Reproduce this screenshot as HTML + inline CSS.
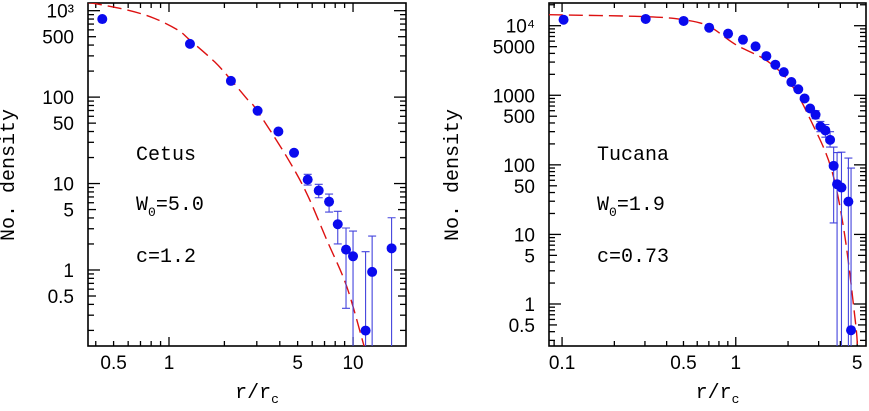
<!DOCTYPE html>
<html><head><meta charset="utf-8"><style>
html,body{margin:0;padding:0;background:#fff;}
svg{display:block;font-family:"Liberation Sans",sans-serif;}
</style></head><body>
<svg id="chart" width="869" height="411" viewBox="0 0 869 411" xmlns="http://www.w3.org/2000/svg"></svg>
<script>
// ---- Cetus data ----
const cetusR = [0.434,1.30,2.17,3.03,3.93,4.78,5.67,6.51,7.41,8.26,9.16,10.0,11.7,12.7,16.2];
const cetusN = [800,413,154,69.5,40,22.7,11.1,8.3,6.17,3.38,1.72,1.44,0.199,0.95,1.78];
const cetusHi = [null,null,null,null,null,null,12.8,9.8,7.56,4.77,3.06,2.82,1.63,2.47,4.02];
const cetusLo = [null,null,null,null,null,null,9.6,6.85,4.68,2.0,0.36,0.001,0.001,0.001,0.001];
const cetusModelR = [0.363,0.395,0.599,0.836,1.12,1.30,1.77,2.18,2.69,3.0,4.36,5.6,7.2,9.25,11.5];
const cetusModelN = [1240,1210,1014,813,595,456,256,157,92,70.7,20.4,7.7,2.22,0.64,0.13];
const cetusXTicks = [0.5,1,5,10];
const cetusXTickLabels = ["0.5","1","5","10"];
const cetusYTicks = [0.5,1,5,10,50,100,500,1000];
const cetusYTickLabels = ["0.5","1","5","10","50","100","500","10³"];
// ---- Tucana data ----
const tucR = [0.102,0.303,0.501,0.703,0.903,1.10,1.30,1.50,1.69,1.89,2.09,2.29,2.49,2.68,2.88,3.07,3.28,3.49,3.66,3.83,4.06,4.45,4.61];
const tucN = [12200,12500,11700,9360,7680,6300,5040,3660,2750,2150,1550,1220,900,646,524,356,312,229,96.8,52.7,47.2,29.6,0.42];
const tucHi = [null,null,null,null,null,null,null,null,null,null,null,null,null,null,600,420,380,300,180,150,152,125,90];
const tucLo = [null,null,null,null,null,null,null,null,null,null,null,null,null,null,460,300,250,180,14.6,0.001,0.001,0.001,0.001];
const tucModelR = [0.084,0.3,0.5,0.7,1.0,1.53,2.09,2.72,3.54,4.22,4.87,5.02];
const tucModelN = [14400,13500,12200,9800,5330,3070,1420,420,89.5,10.4,0.59,0.25];
const tucXTicks = [0.1,0.5,1,5];
const tucXTickLabels = ["0.1","0.5","1","5"];
const tucYTicks = [0.5,1,5,10,50,100,500,1000,5000,10000];
const tucYTickLabels = ["0.5","1","5","10","50","100","500","1000","5000","10⁴"];

const NS="http://www.w3.org/2000/svg";
const svg=document.getElementById('chart');
function mk(tag,attrs,parent){const e=document.createElementNS(NS,tag);for(const k in attrs)e.setAttribute(k,attrs[k]);(parent||svg).appendChild(e);return e;}

function smoothPath(P){
  let d='M'+P[0][0].toFixed(1)+','+P[0][1].toFixed(1);
  for(let i=0;i<P.length-1;i++){
    const p0=P[Math.max(i-1,0)],p1=P[i],p2=P[i+1],p3=P[Math.min(i+2,P.length-1)];
    const c1=[p1[0]+(p2[0]-p0[0])/6,p1[1]+(p2[1]-p0[1])/6];
    const c2=[p2[0]-(p3[0]-p1[0])/6,p2[1]-(p3[1]-p1[1])/6];
    d+='C'+c1[0].toFixed(1)+','+c1[1].toFixed(1)+' '+c2[0].toFixed(1)+','+c2[1].toFixed(1)+' '+p2[0].toFixed(1)+','+p2[1].toFixed(1);
  }
  return d;
}

function panel(cfg){
  const g=mk('g',{});
  
  
  const {x0,x1,y0,y1,xmin,xmax,ymin,ymax}=cfg;
  const lx0=Math.log10(xmin),lx1=Math.log10(xmax),ly0=Math.log10(ymin),ly1=Math.log10(ymax);
  const sx=v=>x0+(Math.log10(v)-lx0)/(lx1-lx0)*(x1-x0);
  const sy=v=>y1-(Math.log10(v)-ly0)/(ly1-ly0)*(y1-y0);
  const clip='clip-'+cfg.name;
  const cp=mk('clipPath',{id:clip},g);mk('rect',{x:x0,y:y0,width:x1-x0,height:y1-y0},cp);
  const tk=mk('g',{stroke:'#000','stroke-width':1.3},g);
  
  
  for(let d=Math.floor(lx0);d<=Math.ceil(lx1);d++){for(let m=1;m<10;m++){const v=m*Math.pow(10,d);if(v<xmin||v>xmax)continue;const X=sx(v);const L=m==1?9:5;
    mk('line',{x1:X,y1:y1,x2:X,y2:y1-L},tk);mk('line',{x1:X,y1:y0,x2:X,y2:y0+L},tk);}}
  for(let d=Math.floor(ly0);d<=Math.ceil(ly1);d++){for(let m=1;m<10;m++){const v=m*Math.pow(10,d);if(v<ymin||v>ymax)continue;const Y=sy(v);const L=m==1?12:(m==5?8:6);
    mk('line',{x1:x0,y1:Y,x2:x0+L,y2:Y},tk);mk('line',{x1:x1,y1:Y,x2:x1-L,y2:Y},tk);}}
  const fr=mk('rect',{x:x0,y:y0,width:x1-x0,height:y1-y0,fill:'none',stroke:'#000','stroke-width':1.6},g);
  
  
  cfg.xt.forEach((v,i)=>{const t=mk('text',{x:sx(v),y:y1+23,'font-size':19,'text-anchor':'middle'},g);t.textContent=cfg.xtl[i];
    
    });
  cfg.yt.forEach((v,i)=>{const t=mk('text',{x:x0-14,y:sy(v)+7,'font-size':19,'text-anchor':'end'},g);t.textContent=cfg.ytl[i];
    
    });
  const xt=mk('text',{x:(x0+x1)/2+10,y:398,'font-size':20,'text-anchor':'middle','font-family':'Liberation Mono, monospace'},g);
  xt.innerHTML='r/r<tspan font-size="13" dy="5">c</tspan>';
  
  
  const yt=mk('text',{x:0,y:0,'font-size':20,'text-anchor':'middle','font-family':'Liberation Mono, monospace',transform:`translate(${cfg.ytx},175) rotate(-90)`},g);
  yt.textContent='No. density';
  
  
  const a1=mk('text',{x:cfg.ax,y:160,'font-size':20,'font-family':'Liberation Mono, monospace'},g);a1.textContent=cfg.label;
  
  
  const a2=mk('text',{x:cfg.ax,y:210,'font-size':20,'font-family':'Liberation Mono, monospace'},g);a2.innerHTML='W<tspan font-size="13" dy="6">0</tspan><tspan dy="-6">='+cfg.w0+'</tspan>';
  
  
  const a3=mk('text',{x:cfg.ax,y:262,'font-size':20,'font-family':'Liberation Mono, monospace'},g);a3.textContent='c='+cfg.c;
  
  
  const dg=mk('g',{'clip-path':`url(#${clip})`},g);
  const P=cfg.mr.map((r,i)=>[sx(r),sy(cfg.mn[i])]);
  const cv=mk('path',{d:smoothPath(P),fill:'none',stroke:'#dd1111','stroke-width':1.4,'stroke-dasharray':'14,6'},dg);
  
  
  cfg.r.forEach((r,i)=>{if(cfg.hi[i]==null)return;const X=sx(r);const Yh=sy(cfg.hi[i]);const Yl=Math.min(sy(cfg.lo[i]),y1+5);
    const e=mk('path',{d:`M${X},${Yh}L${X},${Yl}M${X-4},${Yh}L${X+4},${Yh}M${X-4},${Yl}L${X+4},${Yl}`,stroke:'#4444dd','stroke-width':1.1,fill:'none'},dg);
    
    });
  cfg.r.forEach((r,i)=>{const c=mk('circle',{cx:sx(r),cy:sy(cfg.n[i]),r:5,fill:'#0a0aee'},dg);
    
    });
}
panel({name:'cetus-panel',x0:88,x1:406,y0:3,y1:346,xmin:0.363,xmax:19.4,ymin:0.132,ymax:1227,
  xt:cetusXTicks,xtl:cetusXTickLabels,yt:cetusYTicks,ytl:cetusYTickLabels,ytx:14,ax:136,label:'Cetus',w0:'5.0',c:'1.2',
  r:cetusR,n:cetusN,hi:cetusHi,lo:cetusLo,mr:cetusModelR,mn:cetusModelN});
panel({name:'tucana-panel',x0:549,x1:866,y0:3,y1:346,xmin:0.0841,xmax:5.62,ymin:0.249,ymax:21200,
  xt:tucXTicks,xtl:tucXTickLabels,yt:tucYTicks,ytl:tucYTickLabels,ytx:458,ax:597,label:'Tucana',w0:'1.9',c:'0.73',
  r:tucR,n:tucN,hi:tucHi,lo:tucLo,mr:tucModelR,mn:tucModelN});
</script>
</body></html>
